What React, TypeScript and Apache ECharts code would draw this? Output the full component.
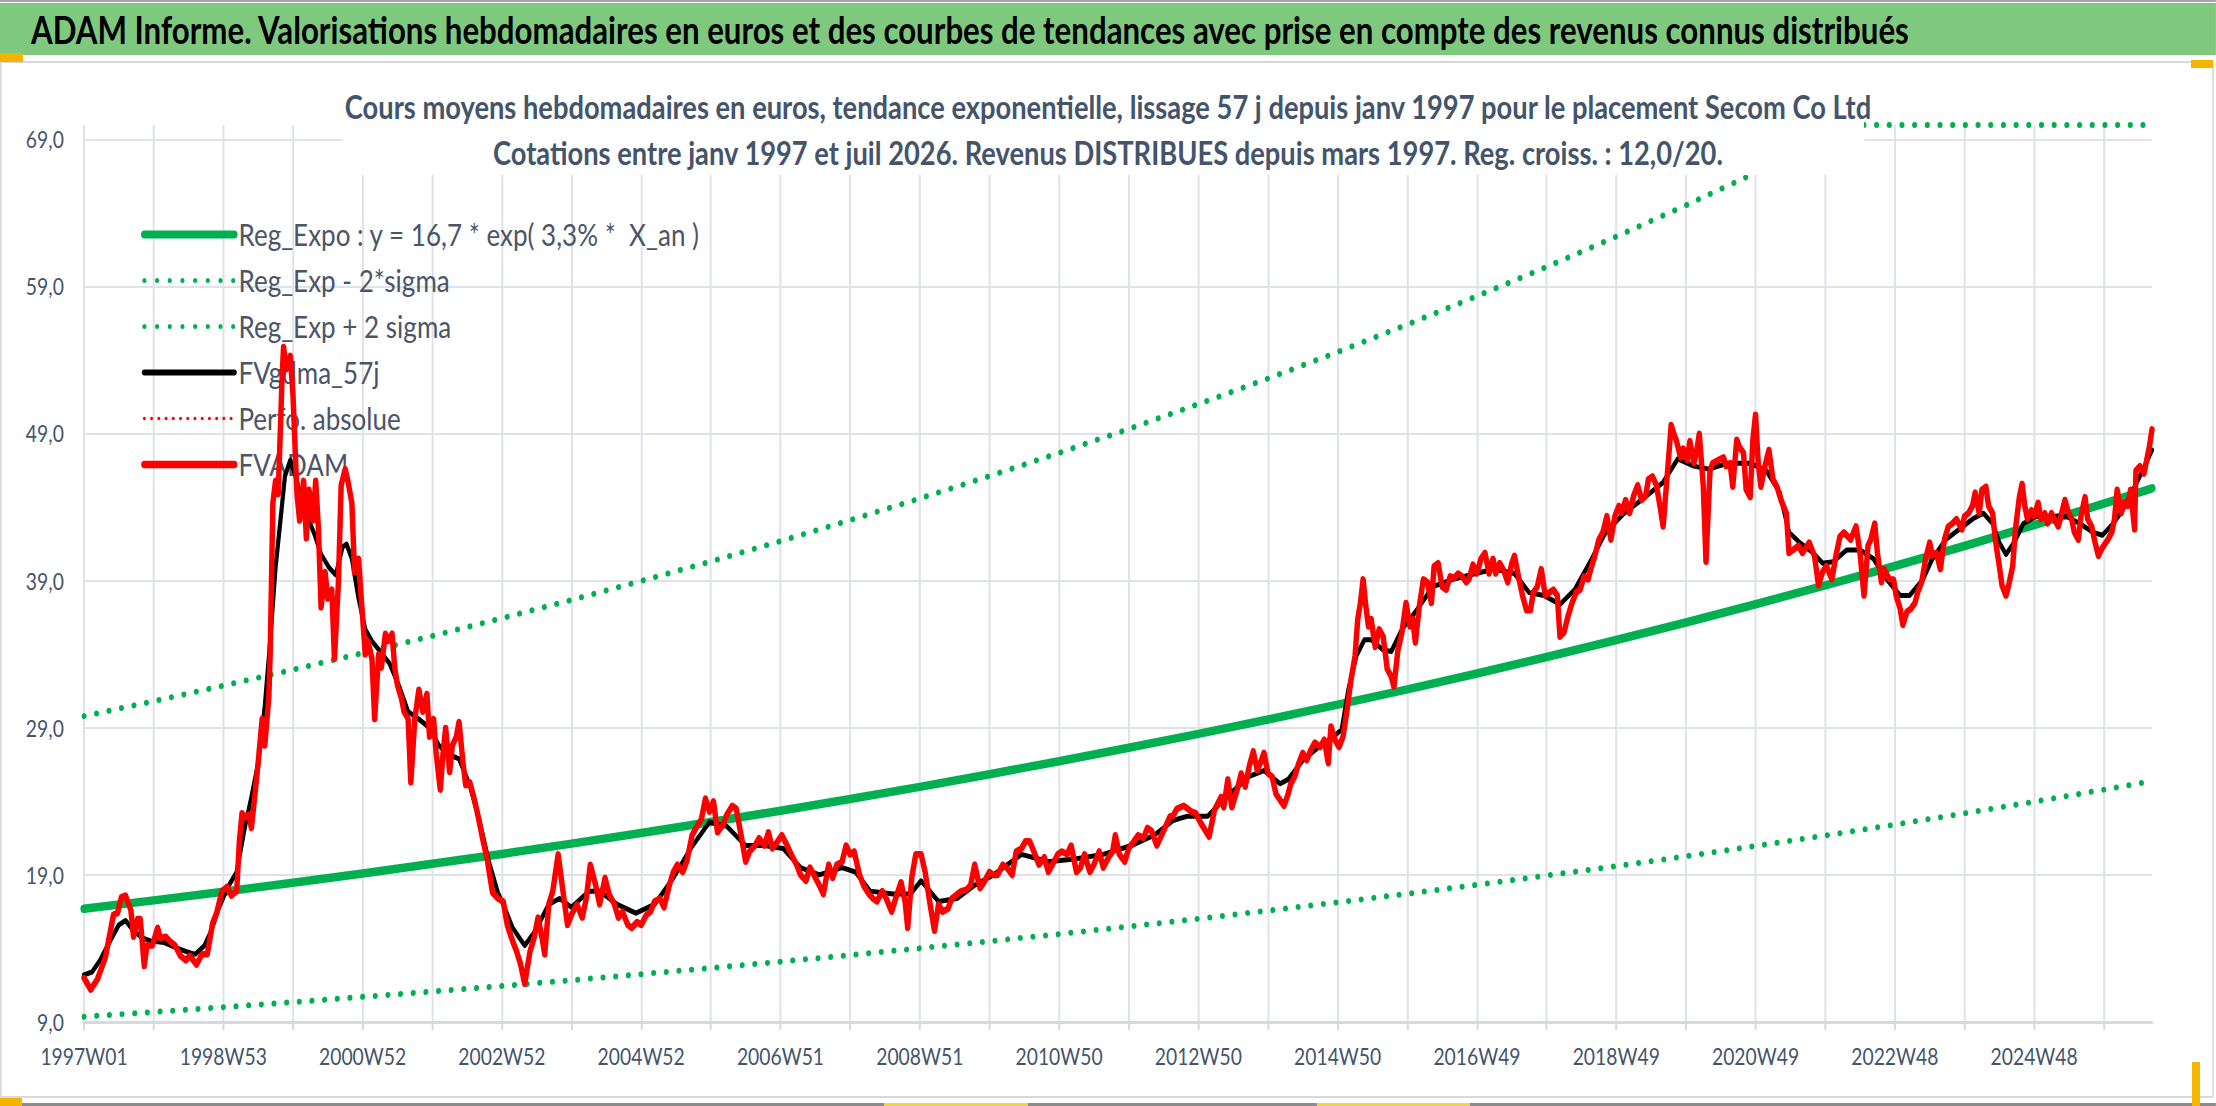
import React, { useEffect, useRef } from 'react';
import * as echarts from 'echarts';

// ---------- page geometry (the Excel picture is horizontally compressed) ----------
const SCALE_X = 0.84;
const PAGE_W = 2216;
const PAGE_H = 1106;
const W_U = Math.round(PAGE_W / SCALE_X);
const u = (x: number) => x / SCALE_X;

// ---------- texts ----------
const BANNER =
  'ADAM Informe. Valorisations hebdomadaires en euros et des courbes de tendances avec prise en compte des revenus connus distribués';
const TITLE_1 =
  'Cours moyens hebdomadaires en euros, tendance exponentielle, lissage 57 j depuis janv 1997 pour le placement Secom Co Ltd';
const TITLE_2 =
  'Cotations entre janv 1997 et juil 2026. Revenus DISTRIBUES depuis mars 1997. Reg. croiss. : 12,0/20.';

const SERIES_NAMES = [
  'Reg_Expo : y = 16,7 * exp( 3,3% *  X_an )',
  'Reg_Exp - 2*sigma',
  'Reg_Exp + 2 sigma',
  'FVgdma_57j',
  'Perfo. absolue',
  'FVADAM',
];

// ---------- axes ----------
const N_WEEKS = 1545; // 1997W01 .. 2026W27
const WEEKS_PER_TICK = 52;
const WEEKS_PER_LABEL = 104;
const X_TICK_LABELS = [
  '1997W01', '1998W53', '2000W52', '2002W52', '2004W52', '2006W51', '2008W51', '2010W50',
  '2012W50', '2014W50', '2016W49', '2018W49', '2020W49', '2022W48', '2024W48',
];
const Y_MIN = 9;
const Y_MAX = 70;
const Y_STEP = 10;

// ---------- data: [week index, value in euros] ----------
const REG_EXPO: [number, number][] = [
  [0, 16.7], [52, 17.27], [104, 17.86], [156, 18.47], [208, 19.1], [260, 19.76], [312, 20.43],
  [364, 21.13], [416, 21.85], [468, 22.6], [520, 23.37], [572, 24.17], [624, 24.99], [676, 25.85],
  [728, 26.73], [780, 27.65], [832, 28.59], [884, 29.57], [936, 30.58], [988, 31.62], [1040, 32.7],
  [1092, 33.82], [1144, 34.98], [1196, 36.17], [1248, 37.41], [1300, 38.69], [1352, 40.01],
  [1404, 41.37], [1456, 42.79], [1508, 44.25], [1544, 45.29],
];
const REG_LOW: [number, number][] = [
  [0, 9.36], [52, 9.68], [104, 10.01], [156, 10.35], [208, 10.71], [260, 11.07], [312, 11.45],
  [364, 11.84], [416, 12.25], [468, 12.67], [520, 13.1], [572, 13.55], [624, 14.01], [676, 14.49],
  [728, 14.98], [780, 15.49], [832, 16.02], [884, 16.57], [936, 17.14], [988, 17.72], [1040, 18.33],
  [1092, 18.96], [1144, 19.6], [1196, 20.27], [1248, 20.97], [1300, 21.68], [1352, 22.42],
  [1404, 23.19], [1456, 23.98], [1508, 24.8], [1544, 25.38],
];
const REG_HIGH: [number, number][] = [
  [0, 29.8], [52, 30.82], [104, 31.87], [156, 32.96], [208, 34.09], [260, 35.25], [312, 36.46],
  [364, 37.7], [416, 38.99], [468, 40.32], [520, 41.7], [572, 43.13], [624, 44.6], [676, 46.12],
  [728, 47.7], [780, 49.33], [832, 51.02], [884, 52.76], [936, 54.56], [988, 56.43], [1040, 58.36],
  [1092, 60.35], [1144, 62.41], [1196, 64.54], [1248, 66.75], [1300, 69.03], [1322, 70.0],
  [1352, 70.0], [1404, 70.0], [1456, 70.0], [1508, 70.0], [1544, 70.0],
];
const FVGDMA_57J: [number, number][] = [
  [0, 12.2], [6, 12.4], [12, 13.2], [20, 14.6], [26, 15.6], [31, 15.9], [37, 15.2], [44, 14.7],
  [50, 14.5], [60, 14.4], [70, 14.0], [76, 13.8], [83, 13.6], [90, 14.2], [95, 15.2], [100, 16.6],
  [107, 18.1], [114, 19.2], [120, 22.2], [125, 24.3], [130, 26.6], [135, 30.5], [139, 34.9],
  [143, 39.9], [147, 43.4], [150, 46.1], [154, 47.2], [158, 46.1], [165, 43.7], [172, 42.2],
  [177, 40.8], [183, 39.9], [188, 39.4], [193, 41.3], [196, 41.5], [200, 40.5], [205, 37.8],
  [210, 35.7], [215, 34.9], [222, 34.1], [228, 33.4], [235, 31.9], [242, 30.1], [250, 29.6],
  [258, 29.0], [265, 27.8], [272, 27.2], [280, 26.9], [288, 25.1], [295, 22.8], [302, 20.0],
  [309, 17.8], [313, 17.0], [320, 15.4], [329, 14.2], [337, 15.2], [347, 17.0], [355, 17.4],
  [364, 16.8], [377, 17.9], [385, 17.9], [398, 17.0], [412, 16.4], [426, 17.0], [440, 18.8],
  [453, 20.8], [467, 22.6], [480, 22.3], [494, 21.0], [508, 21.0], [522, 20.8], [535, 19.5],
  [549, 19.0], [566, 19.5], [576, 19.2], [587, 17.9], [604, 17.7], [617, 17.7], [625, 18.6],
  [638, 17.2], [652, 17.4], [665, 18.3], [679, 19.0], [700, 20.4], [720, 19.9], [741, 20.1],
  [761, 20.4], [782, 21.0], [799, 21.7], [813, 22.7], [824, 23.0], [839, 23.0], [853, 24.3],
  [870, 25.7], [881, 26.1], [893, 25.2], [899, 25.5], [910, 26.8], [922, 27.7], [933, 28.4],
  [939, 28.9], [944, 31.6], [950, 33.9], [956, 35.0], [961, 35.0], [970, 34.3], [976, 34.2],
  [984, 35.7], [995, 37.0], [1007, 38.6], [1022, 39.1], [1039, 39.5], [1053, 39.8], [1068, 39.5],
  [1079, 38.2], [1090, 38.0], [1102, 37.4], [1113, 38.4], [1124, 40.2], [1136, 42.3], [1150, 43.6],
  [1167, 44.8], [1179, 45.7], [1190, 47.3], [1202, 46.8], [1213, 46.6], [1227, 47.0], [1244, 47.0],
  [1256, 46.5], [1266, 45.0], [1273, 42.3], [1281, 41.6], [1291, 40.9], [1298, 40.2], [1306, 40.3],
  [1316, 41.1], [1326, 41.1], [1336, 40.5], [1346, 39.1], [1356, 38.0], [1363, 38.0], [1373, 39.1],
  [1380, 40.5], [1390, 41.8], [1400, 42.5], [1410, 43.2], [1418, 43.6], [1425, 42.9], [1430, 41.6],
  [1435, 40.8], [1441, 41.6], [1448, 42.9], [1458, 43.4], [1470, 43.4], [1480, 43.4], [1490, 42.9],
  [1500, 42.3], [1507, 42.1], [1515, 42.9], [1522, 43.8], [1530, 45.2], [1537, 46.5], [1544, 47.9],
];
const PERFO_ABSOLUE: [number, number][] = [];
const FVADAM: [number, number][] = [
  [0, 12.0], [5, 11.2], [10, 11.9], [16, 13.4], [22, 16.3], [25, 16.4], [28, 17.5], [31, 17.6],
  [35, 16.6], [37, 14.8], [40, 16.0], [42, 16.0], [45, 12.8], [47, 14.2], [51, 14.2], [55, 15.4],
  [57, 14.7], [61, 14.8], [64, 14.5], [68, 14.2], [72, 13.5], [76, 13.2], [79, 13.5], [84, 12.9],
  [88, 13.6], [92, 13.6], [96, 15.7], [99, 16.4], [103, 17.9], [107, 18.2], [110, 17.6], [114, 17.9],
  [116, 21.3], [118, 23.2], [120, 22.9], [123, 23.1], [125, 22.2], [128, 24.8], [130, 26.6],
  [133, 29.6], [135, 27.8], [138, 31.1], [139, 34.0], [141, 44.3], [143, 45.8], [145, 44.9],
  [148, 53.1], [149, 54.9], [151, 53.4], [154, 54.3], [156, 51.7], [159, 44.9], [161, 43.1],
  [164, 45.8], [166, 41.9], [168, 45.2], [171, 43.1], [173, 45.8], [175, 42.6], [177, 37.2],
  [180, 39.6], [182, 37.8], [185, 38.4], [187, 33.7], [190, 39.0], [192, 45.5], [195, 46.6],
  [197, 45.8], [200, 44.3], [202, 39.6], [205, 40.5], [207, 37.8], [210, 34.0], [212, 34.9],
  [215, 33.7], [217, 29.6], [220, 34.0], [222, 33.1], [225, 35.4], [227, 34.9], [230, 35.4],
  [232, 33.1], [234, 31.9], [237, 31.0], [239, 30.1], [242, 29.6], [244, 25.3], [247, 29.6],
  [250, 31.6], [253, 30.1], [256, 31.3], [258, 28.4], [261, 29.6], [263, 27.2], [266, 24.8],
  [268, 27.2], [270, 29.0], [273, 26.0], [275, 27.8], [278, 28.4], [280, 29.4], [283, 26.6],
  [285, 25.1], [288, 25.3], [291, 24.3], [294, 23.1], [298, 21.3], [301, 20.1], [305, 17.8],
  [309, 17.4], [313, 17.2], [316, 15.6], [320, 14.5], [323, 13.8], [326, 12.9], [329, 11.6],
  [333, 13.8], [336, 14.7], [339, 16.1], [342, 14.7], [344, 13.6], [347, 17.0], [350, 17.9],
  [354, 20.4], [357, 18.3], [361, 15.6], [364, 16.3], [368, 17.0], [372, 16.1], [375, 17.4],
  [378, 19.7], [382, 18.3], [385, 17.0], [389, 18.8], [392, 17.7], [396, 17.0], [399, 16.1],
  [402, 16.5], [406, 15.6], [409, 15.4], [413, 15.8], [416, 15.6], [420, 16.3], [423, 16.5],
  [426, 17.2], [430, 17.4], [433, 16.8], [437, 18.3], [440, 19.2], [443, 19.7], [447, 19.2],
  [450, 19.9], [454, 21.7], [457, 22.2], [461, 22.8], [464, 24.2], [467, 23.3], [470, 24.0],
  [473, 21.9], [477, 22.4], [480, 23.1], [484, 23.7], [487, 23.5], [491, 21.5], [494, 19.9],
  [497, 20.6], [501, 21.0], [504, 21.5], [508, 21.0], [511, 21.9], [514, 20.8], [518, 21.3],
  [521, 21.7], [525, 21.0], [528, 20.4], [532, 19.7], [535, 19.0], [539, 18.6], [542, 19.5],
  [545, 19.0], [549, 18.3], [552, 17.7], [556, 19.7], [559, 18.8], [562, 19.7], [566, 19.9],
  [569, 21.0], [572, 20.4], [575, 20.6], [579, 19.0], [582, 18.3], [586, 17.7], [589, 17.4],
  [592, 17.2], [596, 17.9], [599, 17.4], [603, 16.5], [606, 17.4], [610, 18.5], [613, 17.2],
  [615, 15.4], [618, 18.8], [621, 20.4], [625, 20.4], [628, 19.2], [631, 17.4], [635, 15.2],
  [638, 17.0], [641, 16.5], [645, 16.7], [648, 17.4], [652, 17.7], [655, 17.9], [659, 18.0],
  [662, 18.3], [665, 19.7], [669, 18.1], [672, 18.5], [676, 19.2], [679, 19.0], [682, 19.0],
  [686, 19.7], [689, 19.5], [693, 19.0], [696, 20.6], [700, 20.8], [703, 21.3], [706, 21.3],
  [710, 20.4], [713, 19.7], [717, 20.2], [720, 19.2], [723, 19.7], [727, 20.4], [730, 20.6],
  [734, 20.4], [737, 21.0], [741, 19.2], [744, 19.5], [747, 20.4], [751, 19.2], [754, 19.7],
  [758, 20.6], [761, 19.5], [765, 20.2], [768, 20.6], [770, 21.7], [773, 20.4], [777, 19.9],
  [780, 20.8], [784, 21.3], [787, 21.7], [791, 21.5], [794, 22.2], [797, 22.0], [801, 21.0],
  [804, 21.6], [808, 22.4], [811, 23.0], [813, 23.0], [816, 23.5], [821, 23.7], [827, 23.3],
  [830, 23.2], [834, 22.5], [840, 21.6], [844, 23.4], [849, 24.3], [851, 23.6], [854, 25.5],
  [857, 23.6], [861, 24.8], [864, 25.9], [867, 25.0], [870, 26.4], [873, 27.4], [876, 26.1],
  [879, 26.8], [881, 27.3], [884, 25.9], [887, 25.7], [890, 24.5], [893, 24.1], [896, 23.7],
  [899, 24.5], [901, 25.2], [904, 25.7], [907, 26.6], [910, 27.3], [913, 26.8], [916, 27.5],
  [919, 28.0], [923, 27.7], [926, 28.2], [929, 26.6], [931, 29.1], [934, 28.2], [937, 27.7],
  [940, 28.4], [943, 30.2], [946, 32.3], [949, 33.9], [951, 36.4], [953, 37.5], [955, 39.1],
  [957, 37.3], [959, 35.9], [961, 36.4], [964, 34.5], [967, 35.7], [970, 35.2], [973, 33.0],
  [976, 32.5], [978, 31.8], [981, 34.3], [984, 35.5], [987, 37.5], [990, 35.9], [992, 36.4],
  [994, 34.8], [997, 37.3], [1000, 39.1], [1003, 38.9], [1006, 37.5], [1008, 40.0], [1011, 40.2],
  [1014, 38.6], [1017, 38.4], [1020, 39.3], [1023, 39.2], [1026, 39.5], [1029, 39.3], [1032, 38.9],
  [1034, 39.1], [1037, 40.1], [1040, 39.5], [1043, 40.5], [1046, 40.9], [1049, 39.5], [1052, 40.5],
  [1054, 39.5], [1057, 40.2], [1060, 39.7], [1063, 38.9], [1066, 40.2], [1068, 40.7], [1071, 39.3],
  [1074, 38.0], [1077, 37.0], [1080, 37.0], [1082, 38.2], [1085, 38.6], [1088, 39.8], [1091, 38.0],
  [1094, 38.2], [1097, 38.4], [1100, 38.0], [1102, 35.2], [1105, 35.5], [1108, 36.6], [1111, 37.5],
  [1114, 38.2], [1117, 38.4], [1120, 39.3], [1123, 39.1], [1125, 39.8], [1128, 40.7], [1131, 41.8],
  [1134, 42.3], [1137, 43.4], [1140, 41.8], [1143, 43.4], [1146, 44.1], [1148, 43.6], [1151, 44.5],
  [1154, 43.6], [1157, 44.8], [1160, 45.5], [1163, 44.5], [1166, 44.8], [1168, 45.9], [1171, 46.1],
  [1174, 45.5], [1177, 43.9], [1179, 42.7], [1182, 46.1], [1185, 49.6], [1187, 49.0], [1189, 48.5],
  [1192, 47.4], [1194, 48.0], [1197, 47.2], [1199, 48.5], [1202, 47.0], [1204, 47.8], [1206, 49.0],
  [1209, 45.4], [1211, 40.3], [1214, 46.5], [1216, 47.0], [1220, 47.2], [1224, 47.4], [1226, 46.8],
  [1229, 47.0], [1231, 45.4], [1234, 48.6], [1236, 48.1], [1239, 47.7], [1241, 45.2], [1244, 44.7],
  [1246, 48.6], [1248, 50.3], [1250, 47.0], [1252, 45.4], [1255, 46.8], [1258, 47.9], [1261, 45.9],
  [1264, 45.4], [1267, 44.5], [1271, 43.6], [1273, 40.9], [1276, 41.1], [1280, 41.4], [1283, 40.9],
  [1288, 41.6], [1292, 40.7], [1295, 38.7], [1298, 39.6], [1301, 40.0], [1305, 39.1], [1308, 40.7],
  [1311, 42.0], [1314, 42.3], [1317, 42.0], [1319, 41.8], [1323, 42.7], [1326, 40.9], [1329, 38.0],
  [1332, 41.4], [1334, 41.8], [1337, 42.9], [1339, 40.9], [1342, 38.9], [1344, 39.8], [1348, 39.1],
  [1351, 39.1], [1353, 38.0], [1356, 37.1], [1358, 36.0], [1361, 36.9], [1364, 37.1], [1367, 37.5],
  [1369, 38.2], [1372, 38.9], [1375, 40.5], [1378, 41.6], [1380, 40.7], [1383, 40.9], [1386, 39.8],
  [1389, 41.8], [1392, 42.7], [1395, 42.9], [1398, 43.2], [1402, 42.5], [1404, 43.4], [1407, 43.6],
  [1410, 44.1], [1412, 45.0], [1415, 43.6], [1417, 45.2], [1420, 45.4], [1422, 44.1], [1425, 43.6],
  [1427, 41.8], [1430, 40.0], [1432, 38.7], [1435, 38.0], [1437, 38.7], [1440, 40.0], [1442, 42.5],
  [1445, 44.7], [1447, 45.6], [1449, 44.1], [1451, 43.2], [1454, 43.8], [1456, 43.4], [1459, 44.3],
  [1461, 43.2], [1464, 43.6], [1466, 42.9], [1469, 43.6], [1471, 43.2], [1474, 42.7], [1476, 43.4],
  [1479, 44.5], [1481, 43.8], [1484, 43.2], [1486, 42.3], [1489, 41.8], [1491, 43.4], [1494, 44.7],
  [1496, 43.2], [1499, 42.7], [1501, 41.8], [1504, 40.7], [1506, 41.1], [1508, 41.4], [1511, 41.8],
  [1514, 42.3], [1516, 43.2], [1518, 45.2], [1521, 43.6], [1523, 44.3], [1526, 44.1], [1528, 45.2],
  [1531, 42.5], [1532, 46.5], [1535, 46.8], [1538, 46.3], [1540, 47.2], [1542, 48.1], [1544, 49.3],
];

// ---------- styling ----------
const FONT = "Lato, 'Open Sans', 'DejaVu Sans', sans-serif";
const SLATE = '#44546A';
const GRID_COLOR = '#DFE2E9';
const GREEN = '#00B050';
const RED = '#FF0000';
const DOTS = [0.1, 15];

const SERIES_WIDTHS = [8.5, 6, 6, 5, 3.5, 6.5];
const LEGEND_WIDTHS = [8, 5, 5, 6, 3.5, 7.5];

const CATEGORIES = Array.from({ length: N_WEEKS }, (_, i) => String(i));

function lineSeries(name: string, data: [number, number][], color: string, width: number, type: any, extra: any = {}) {
  return {
    name,
    type: 'line',
    data,
    symbol: 'none',
    showSymbol: false,
    silent: true,
    z: 3,
    lineStyle: { color, width, type, cap: 'round', join: 'round' },
    itemStyle: { color },
    ...extra,
  };
}

function buildOption(): any {
  const yTickCount = Math.round((Y_MAX - Y_MIN) / Y_STEP) + 1;
  const ySplitColors = [...Array(yTickCount).fill(GRID_COLOR), 'rgba(0,0,0,0)'];
  return {
    animation: false,
    textStyle: { fontFamily: FONT },
    title: {
      text: TITLE_1 + '\n' + TITLE_2,
      left: 'center',
      top: 83,
      padding: 0,
      z: 12,
      textStyle: { fontFamily: FONT, fontSize: 32.5, fontWeight: 'bold', color: SLATE, lineHeight: 46 },
    },
    legend: {
      orient: 'vertical',
      left: u(141),
      top: 219,
      padding: 0,
      itemWidth: 107,
      itemHeight: 14,
      itemGap: 15,
      z: 1,
      selectedMode: false,
      itemStyle: { opacity: 0, borderWidth: 0 },
      data: SERIES_NAMES.map((name, i) => ({
        name,
        itemStyle: { opacity: 0, borderWidth: 0 },
        lineStyle: { width: LEGEND_WIDTHS[i] },
      })),
      textStyle: { fontFamily: FONT, fontSize: 31, lineHeight: 31, color: '#4B5568' },
    },
    grid: { left: u(84), right: W_U - u(2152), top: 125, bottom: PAGE_H - 1022, containLabel: false },
    xAxis: {
      type: 'category',
      data: CATEGORIES,
      boundaryGap: false,
      axisLine: { lineStyle: { color: '#D6D9E0', width: 3 } },
      axisTick: {
        show: true,
        interval: (i: number) => i % WEEKS_PER_TICK === 0,
        length: 8,
        lineStyle: { color: '#D6D9E0', width: 2.4 },
      },
      axisLabel: {
        interval: (i: number) => i % WEEKS_PER_LABEL === 0,
        formatter: (_v: string, i: number) => X_TICK_LABELS[i / WEEKS_PER_LABEL] ?? '',
        margin: 23,
        fontSize: 23,
        color: SLATE,
        fontFamily: FONT,
      },
      splitLine: {
        show: true,
        interval: (i: number) => i % WEEKS_PER_TICK === 0,
        lineStyle: { color: GRID_COLOR, width: 2.4 },
      },
    },
    yAxis: {
      type: 'value',
      min: Y_MIN,
      max: Y_MAX,
      interval: Y_STEP,
      axisLine: { show: false },
      axisTick: { show: false },
      axisLabel: {
        formatter: (v: number) => {
          const k = (v - Y_MIN) / Y_STEP;
          return Math.abs(k - Math.round(k)) < 1e-6 ? v.toFixed(1).replace('.', ',') : '';
        },
        margin: 24,
        fontSize: 23,
        color: SLATE,
        fontFamily: FONT,
      },
      splitLine: { show: true, lineStyle: { color: ySplitColors, width: 2 } },
    },
    series: [
      lineSeries(SERIES_NAMES[0], REG_EXPO, GREEN, SERIES_WIDTHS[0], 'solid'),
      lineSeries(SERIES_NAMES[1], REG_LOW, GREEN, SERIES_WIDTHS[1], DOTS),
      lineSeries(SERIES_NAMES[2], REG_HIGH, GREEN, SERIES_WIDTHS[2], DOTS, { clip: false }),
      lineSeries(SERIES_NAMES[3], FVGDMA_57J, '#000000', SERIES_WIDTHS[3], 'solid'),
      lineSeries(SERIES_NAMES[4], PERFO_ABSOLUE, RED, SERIES_WIDTHS[4], [0.1, 8.5]),
      lineSeries(SERIES_NAMES[5], FVADAM, RED, SERIES_WIDTHS[5], 'solid'),
    ],
    graphic: [
      // chart border
      {
        type: 'rect', silent: true, z: 0,
        shape: { x: 1, y: 62, width: u(2213) - 1, height: 1097 - 62 },
        style: { fill: 'rgba(0,0,0,0)', stroke: '#D9D9D9', lineWidth: 2 },
      },
      // white box behind the chart title
      {
        type: 'rect', silent: true, z: 10,
        shape: { x: u(343), y: 70, width: u(1864) - u(343), height: 175 - 70 },
        style: { fill: '#FFFFFF' },
      },
      // spreadsheet banner
      { type: 'rect', silent: true, z: 20, shape: { x: 0, y: 0, width: W_U, height: 2 }, style: { fill: '#A6A6A6' } },
      { type: 'rect', silent: true, z: 20, shape: { x: 0, y: 3, width: W_U, height: 52 }, style: { fill: '#7FC97F' } },
      {
        type: 'text', silent: true, z: 21, x: u(31), y: 29,
        style: {
          text: BANNER, fontFamily: FONT, fontSize: 37.2, fontWeight: 'bold', fill: '#000000',
          align: 'left', verticalAlign: 'middle',
        },
      },
      { type: 'rect', silent: true, z: 20, shape: { x: 0, y: 53, width: u(23), height: 9 }, style: { fill: '#F5B400' } },
      { type: 'rect', silent: true, z: 20, shape: { x: u(2191), y: 60, width: u(22), height: 8 }, style: { fill: '#F5B400' } },
      // bottom sheet edge
      { type: 'rect', silent: true, z: 20, shape: { x: 0, y: 1103, width: W_U, height: 3 }, style: { fill: '#8C8C8C' } },
      { type: 'rect', silent: true, z: 21, shape: { x: u(884), y: 1103, width: u(144), height: 3 }, style: { fill: '#E9D84A' } },
      { type: 'rect', silent: true, z: 21, shape: { x: u(1317), y: 1103, width: u(153), height: 3 }, style: { fill: '#E9D84A' } },
      { type: 'rect', silent: true, z: 21, shape: { x: 0, y: 1098, width: u(22), height: 8 }, style: { fill: '#F5B400' } },
      { type: 'rect', silent: true, z: 21, shape: { x: u(2192), y: 1062, width: u(8), height: 44 }, style: { fill: '#F5B400' } },
    ],
  };
}

export default function App() {
  const ref = useRef<HTMLDivElement>(null);
  useEffect(() => {
    if (!ref.current) return;
    const chart = echarts.init(ref.current, undefined, { renderer: 'svg' });
    chart.setOption(buildOption());
    return () => {
      chart.dispose();
    };
  }, []);
  return (
    <div
      style={{
        position: 'fixed', left: 0, top: 0, width: PAGE_W, height: PAGE_H,
        overflow: 'hidden', background: '#FFFFFF',
      }}
    >
      <div
        ref={ref}
        style={{ width: W_U, height: PAGE_H, transform: `scaleX(${SCALE_X})`, transformOrigin: '0 0' }}
      />
    </div>
  );
}
